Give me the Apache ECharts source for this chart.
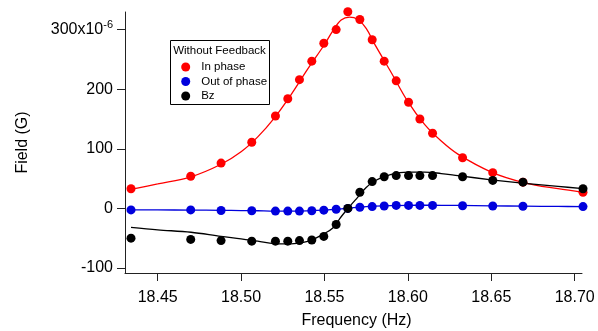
<!DOCTYPE html>
<html>
<head>
<meta charset="utf-8">
<script src="https://cdn.jsdelivr.net/npm/echarts@6/dist/echarts.min.js"></script>
<style>
  html, body { margin: 0; padding: 0; background: #fff; }
  #chart { width: 598px; height: 331px; }
</style>
</head>
<body>
<div id="chart"></div>
<script>
// Measured drive frequencies (Hz)
const freq = [18.4340, 18.4698, 18.4880, 18.5064, 18.5206, 18.5280, 18.5350, 18.5424,
              18.5496, 18.5570, 18.5640, 18.5712, 18.5786, 18.5858, 18.5930, 18.6004,
              18.6072, 18.6148, 18.6328, 18.6509, 18.6690, 18.7050];

// Field components (units of 1e-6 G)
const inPhase    = [33, 54, 76, 111, 155, 184, 216, 247, 277, 300, 330, 317,
                    283, 247, 214, 178, 150, 126, 85, 60, 44, 27];
const outOfPhase = [-2.5, -2.5, -3.5, -4, -4.5, -4.5, -4.5, -4, -3, -1.5, 0, 2,
                    3, 4, 5, 5, 5, 5, 4.5, 4, 3.5, 3];
const bz         = [-50, -52, -54, -55, -55, -55, -54, -53, -47, -27, 0, 27,
                    45, 53, 55, 55, 55, 55, 53, 47, 44, 33];

// Fitted curves, sampled on a common frequency grid
const fitFreq = [18.434, 18.45, 18.47, 18.488, 18.50, 18.51, 18.52, 18.53, 18.54, 18.55,
                 18.555, 18.56, 18.565, 18.57, 18.575, 18.58, 18.59, 18.60, 18.61, 18.62,
                 18.63, 18.65, 18.67, 18.69, 18.705];
const fitInPhase    = [32, 41, 53, 74, 95, 120, 152, 191, 234, 275,
                       298, 316, 321, 317, 302, 276, 228, 179, 141, 113,
                       91, 61, 43, 33, 27];
const fitOutOfPhase = [-2.5, -2.6, -2.8, -3.2, -3.6, -4, -4.5, -4.5, -4, -3,
                       -2, -0.8, 0.5, 1.8, 3, 3.8, 4.8, 5.2, 5.3, 5.2,
                       5, 4.3, 3.7, 3.3, 3];
const fitBz         = [-32, -36, -40, -47, -51, -55, -59, -59.5, -55.5, -42,
                       -33, -14, 3, 19, 35, 46, 57, 61, 61, 58.5,
                       55, 48, 42, 37, 33];

// Axis ticks
const xTicks = [18.45, 18.50, 18.55, 18.60, 18.65, 18.70];
const yTicks = [-100, 0, 100, 200, 300];

const seriesNames = ['In phase', 'Out of phase', 'Bz'];
const colors = ['#ff0000', '#0000dd', '#000000'];

const pairs = (xs, ys) => xs.map((x, i) => [x, ys[i]]);

const FONT = 'Liberation Sans, Arial, sans-serif';
const axisColor = '#222';

const chart = echarts.init(document.getElementById('chart'), null, { renderer: 'canvas' });

const fitSets = [fitInPhase, fitOutOfPhase, fitBz];
const dataSets = [inPhase, outOfPhase, bz];

const series = [];
fitSets.forEach((ys, i) => {
  series.push({
    name: seriesNames[i] + ' fit',
    type: 'line',
    data: pairs(fitFreq, ys),
    smooth: 0.35,
    showSymbol: false,
    clip: false,
    z: 2,
    lineStyle: { color: colors[i], width: 1.3 },
    emphasis: { disabled: true },
    silent: true
  });
});
dataSets.forEach((ys, i) => {
  series.push({
    name: seriesNames[i],
    type: 'line',
    data: pairs(freq, ys),
    lineStyle: { width: 0, opacity: 0 },
    symbol: 'circle',
    symbolSize: 9,
    showAllSymbol: true,
    clip: false,
    z: 3 + i,
    itemStyle: { color: colors[i] },
    emphasis: { disabled: true }
  });
});

const legendRowsTop = [61, 75.5, 90];
const legends = seriesNames.map((n, i) => ({
  data: [{ name: n, icon: 'circle' }],
  left: 181.2,
  top: legendRowsTop[i],
  itemWidth: 9,
  itemHeight: 9,
  padding: 0,
  z: 30,
  selectedMode: false,
  textStyle: { fontFamily: FONT, fontSize: 11.5, color: '#000', padding: [0, 0, 0, 6] }
}));

chart.setOption({
  animation: false,
  backgroundColor: '#fff',
  grid: { left: 125, right: 16, top: 12, bottom: 58, containLabel: false, outerBoundsMode: 'none' },
  legend: legends,
  graphic: [
    {
      type: 'rect',
      shape: { x: 170.5, y: 40.5, width: 99, height: 64 },
      style: { fill: '#fff', stroke: '#000', lineWidth: 1 },
      z: 10
    },
    {
      type: 'text',
      x: 219.5, y: 51,
      style: {
        text: 'Without Feedback',
        fontFamily: FONT, fontSize: 11.5, fill: '#000',
        align: 'center', verticalAlign: 'middle'
      },
      z: 11
    }
  ],
  xAxis: {
    type: 'value',
    min: 18.4304,
    max: 18.7044,
    name: 'Frequency (Hz)',
    nameLocation: 'middle',
    nameGap: 40,
    nameTextStyle: { fontFamily: FONT, fontSize: 16, color: '#000', padding: [0, 0, 0, 6] },
    axisLine: { show: true, onZero: false, lineStyle: { color: axisColor, width: 1 } },
    axisTick: { show: true, inside: false, length: 8, customValues: xTicks,
                lineStyle: { color: axisColor, width: 1 } },
    axisLabel: { customValues: xTicks, margin: 17, fontFamily: FONT, fontSize: 16, color: '#000',
                 formatter: v => v.toFixed(2) },
    splitLine: { show: false }
  },
  yAxis: {
    type: 'value',
    min: -108.4,
    max: 329.5,
    name: 'Field (G)',
    nameLocation: 'middle',
    nameGap: 94,
    nameTextStyle: { fontFamily: FONT, fontSize: 16, color: '#000' },
    axisLine: { show: true, onZero: false, lineStyle: { color: axisColor, width: 1 } },
    axisTick: { show: true, inside: false, length: 8, customValues: yTicks,
                lineStyle: { color: axisColor, width: 1 } },
    axisLabel: {
      customValues: yTicks, margin: 12, fontFamily: FONT, fontSize: 16, color: '#000',
      formatter: v => (v === 300 ? '{m|300x10}{e|-6}' : String(v)),
      rich: {
        m: { fontFamily: FONT, fontSize: 16, color: '#000' },
        e: { fontFamily: FONT, fontSize: 11, color: '#000', verticalAlign: 'top', padding: [0, 0, 9, 0] }
      }
    },
    splitLine: { show: false }
  },
  series: series
});
</script>
</body>
</html>
